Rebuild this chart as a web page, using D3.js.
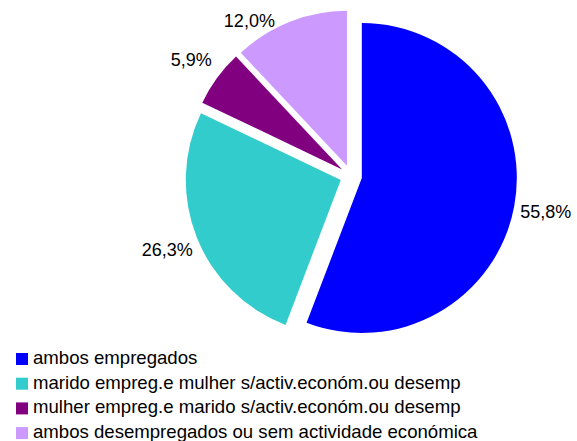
<!DOCTYPE html>
<html><head><meta charset="utf-8">
<script src="https://cdn.jsdelivr.net/npm/d3@7"></script>
<style>body{margin:0;background:#fff;}svg{display:block;}text{font-family:Arial,"Liberation Sans",sans-serif;fill:#000;}</style>
</head><body>
<svg id="c" width="577" height="441"></svg>
<script>
const categories = [
  "ambos empregados",
  "marido empreg.e mulher s/activ.económ.ou desemp",
  "mulher empreg.e marido s/activ.económ.ou desemp",
  "ambos desempregados ou sem actividade económica"
];
const values = [55.8, 26.3, 5.9, 12.0];
const labels = ["55,8%", "26,3%", "5,9%", "12,0%"];
const colors = ["#0000FF", "#33CCCC", "#800080", "#CC99FF"];

const svg = d3.select("#c");
const cx = 351, cy = 176, R = 155, explode = 11, labelR = 187, topLimit = 20.5;

const pie = d3.pie().sort(null).value(d => d)(values);
const arc = d3.arc().innerRadius(0).outerRadius(R);

const g = svg.append("g").attr("transform", `translate(${cx},${cy})`);
pie.forEach((p, i) => {
  const mid = (p.startAngle + p.endAngle) / 2;
  const ox = Math.sin(mid) * explode, oy = -Math.cos(mid) * explode;
  g.append("path").attr("d", arc(p)).attr("fill", colors[i])
    .attr("transform", `translate(${ox},${oy})`);
  let lx = ox + Math.sin(mid) * labelR, ly = oy - Math.cos(mid) * labelR;
  if (cy + ly < topLimit) {
    ly = topLimit - cy;
    const r2 = labelR - 12, dy = ly - oy;
    lx = ox + Math.sign(Math.sin(mid)) * Math.sqrt(Math.max(0, r2 * r2 - dy * dy));
  }
  g.append("text").attr("x", lx).attr("y", ly).attr("dy", "0.36em")
    .attr("text-anchor", "middle").attr("font-size", 18).text(labels[i]);
});

const leg = svg.append("g").attr("transform", "translate(16,353)");
categories.forEach((c, i) => {
  const row = leg.append("g").attr("transform", `translate(0,${i * 24.7})`);
  row.append("rect").attr("width", 12).attr("height", 12).attr("fill", colors[i]);
  row.append("text").attr("x", 17).attr("y", 11).attr("font-size", 18.6).text(c);
});
</script>
</body></html>
